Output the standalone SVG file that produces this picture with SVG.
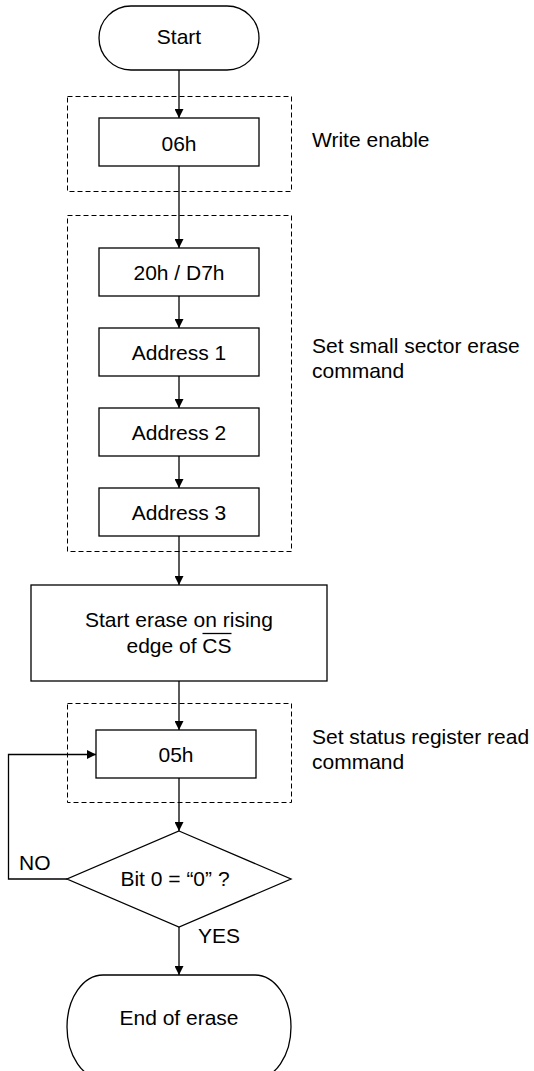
<svg xmlns="http://www.w3.org/2000/svg" width="534" height="1071" viewBox="0 0 534 1071">
<style>
  .shape { fill: #fff; stroke: #000; stroke-width: 1.3; }
  .group { fill: none; stroke: #000; stroke-width: 1; stroke-dasharray: 5 3; }
  .conn { fill: none; stroke: #000; stroke-width: 1.3; }
  text { font-family: "Liberation Sans", Arial, sans-serif; font-size: 21px; fill: #000; }
  .c { text-anchor: middle; }
</style>
<defs>
  <marker id="arr" viewBox="0 0 10 10" refX="10" refY="5" markerWidth="9" markerHeight="9" markerUnits="userSpaceOnUse" orient="auto">
    <path d="M0,0 L10,5 L0,10 z" fill="#000"/>
  </marker>
</defs>
<rect width="534" height="1071" fill="#fff"/>

<g id="group-write-enable">
  <rect class="group" x="67.5" y="96.5" width="224" height="95"/>
  <text x="312" y="147">Write enable</text>
</g>
<g id="group-sector-erase">
  <rect class="group" x="67.5" y="215.5" width="224" height="336"/>
  <text x="312" y="353">Set small sector erase</text>
  <text x="312" y="378">command</text>
</g>
<g id="group-status-read">
  <rect class="group" x="67.5" y="703.5" width="224" height="99"/>
  <text x="312" y="744">Set status register read</text>
  <text x="312" y="769">command</text>
</g>

<g id="connectors">
  <line class="conn" x1="179" y1="70" x2="179" y2="118" marker-end="url(#arr)"/>
  <line class="conn" x1="179" y1="166" x2="179" y2="248" marker-end="url(#arr)"/>
  <line class="conn" x1="179" y1="296" x2="179" y2="328" marker-end="url(#arr)"/>
  <line class="conn" x1="179" y1="376" x2="179" y2="408" marker-end="url(#arr)"/>
  <line class="conn" x1="179" y1="456" x2="179" y2="488" marker-end="url(#arr)"/>
  <line class="conn" x1="179" y1="536" x2="179" y2="585" marker-end="url(#arr)"/>
  <line class="conn" x1="179" y1="681" x2="179" y2="730" marker-end="url(#arr)"/>
  <line class="conn" x1="179" y1="778" x2="179" y2="831" marker-end="url(#arr)"/>
  <line class="conn" x1="179" y1="927" x2="179" y2="975" marker-end="url(#arr)"/>
  <polyline class="conn" points="67,879 8.5,879 8.5,754.5 96,754.5" marker-end="url(#arr)"/>
  <text x="19" y="870">NO</text>
  <text x="198" y="943">YES</text>
</g>

<g id="node-start">
  <rect class="shape" x="99" y="6" width="160" height="64" rx="32" ry="32"/>
  <text class="c" x="179" y="44">Start</text>
</g>
<g id="node-06h">
  <rect class="shape" x="99" y="118" width="160" height="48"/>
  <text class="c" x="179" y="151">06h</text>
</g>
<g id="node-20h">
  <rect class="shape" x="99" y="248" width="160" height="48"/>
  <text class="c" x="179" y="280">20h / D7h</text>
</g>
<g id="node-addr1">
  <rect class="shape" x="99" y="328" width="160" height="48"/>
  <text class="c" x="179" y="360">Address 1</text>
</g>
<g id="node-addr2">
  <rect class="shape" x="99" y="408" width="160" height="48"/>
  <text class="c" x="179" y="440">Address 2</text>
</g>
<g id="node-addr3">
  <rect class="shape" x="99" y="488" width="160" height="48"/>
  <text class="c" x="179" y="520">Address 3</text>
</g>
<g id="node-start-erase">
  <rect class="shape" x="31" y="585" width="296" height="96"/>
  <text class="c" x="179" y="627">Start erase on rising</text>
  <text class="c" x="179" y="653">edge of CS</text>
  <line x1="202.5" y1="633.5" x2="231.5" y2="633.5" stroke="#000" stroke-width="1.3"/>
</g>
<g id="node-05h">
  <rect class="shape" x="96" y="730" width="160" height="48"/>
  <text class="c" x="176" y="762">05h</text>
</g>
<g id="node-bit0">
  <polygon class="shape" points="179,831 291,879 179,927 67,879"/>
  <text class="c" x="175" y="886">Bit 0 = “0” ?</text>
</g>
<g id="node-end">
  <rect class="shape" x="67" y="975" width="224" height="104" rx="36" ry="52"/>
  <text class="c" x="179" y="1025">End of erase</text>
</g>
</svg>
